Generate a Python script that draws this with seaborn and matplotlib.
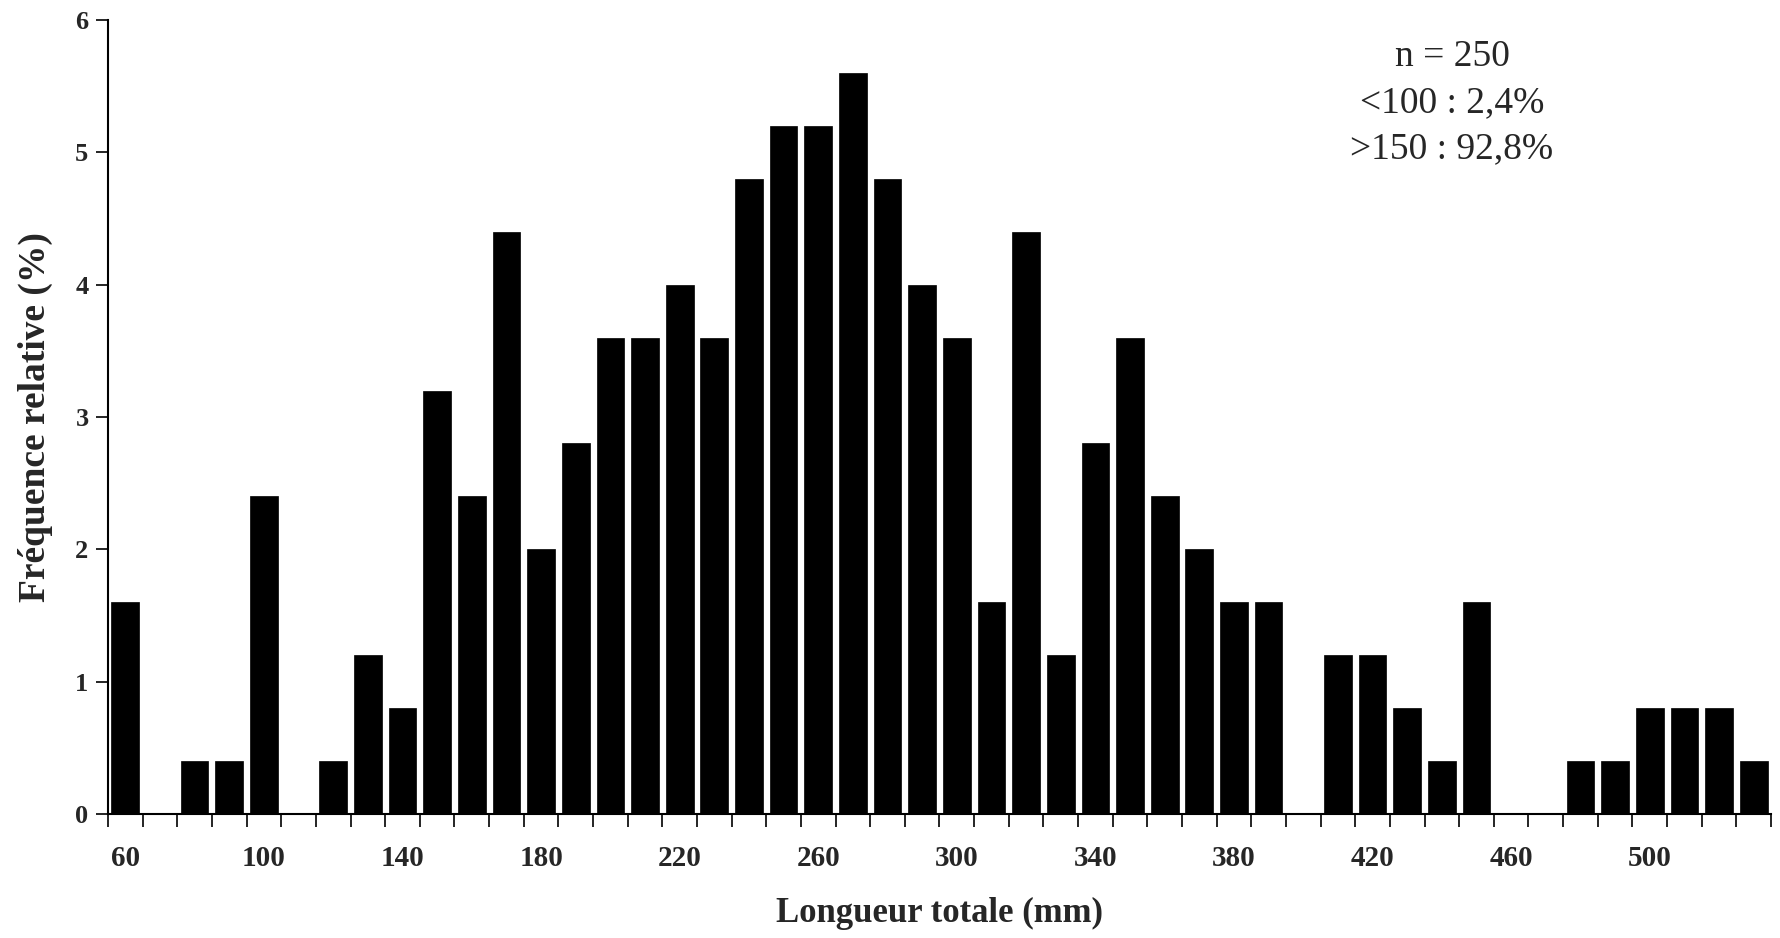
import matplotlib
matplotlib.use("Agg")
import matplotlib.pyplot as plt
import seaborn as sns
import pandas as pd
import numpy as np

lengths = [60, 70, 80, 90, 100, 110, 120, 130, 140, 150, 160, 170, 180, 190,
           200, 210, 220, 230, 240, 250, 260, 270, 280, 290, 300, 310, 320,
           330, 340, 350, 360, 370, 380, 390, 400, 410, 420, 430, 440, 450,
           460, 470, 480, 490, 500, 510, 520, 530]
freq = [1.6, 0.0, 0.4, 0.4, 2.4, 0.0, 0.4, 1.2, 0.8, 3.2, 2.4, 4.4, 2.0, 2.8,
        3.6, 3.6, 4.0, 3.6, 4.8, 5.2, 5.2, 5.6, 4.8, 4.0, 3.6, 1.6, 4.4,
        1.2, 2.8, 3.6, 2.4, 2.0, 1.6, 1.6, 0.0, 1.2, 1.2, 0.8, 0.4, 1.6,
        0.0, 0.0, 0.4, 0.4, 0.8, 0.8, 0.8, 0.4]
tick_labels = ["60", "100", "140", "180", "220", "260", "300", "340",
               "380", "420", "460", "500"]
yticks = [0, 1, 2, 3, 4, 5, 6]
annot_lines = ["n = 250", "<100 : 2,4%", ">150 : 92,8%"]

sns.set_style("white")
plt.rcParams['font.family'] = ['Liberation Serif', 'DejaVu Serif']

df = pd.DataFrame({"L": [str(v) for v in lengths], "f": freq})

W, H = 1781, 938
x0, x1, y0, y1 = 108, 1771, 814, 20
fig = plt.figure(figsize=(W / 100, H / 100), dpi=100)
ax = fig.add_axes([x0 / W, 1 - y0 / H, (x1 - x0) / W, (y0 - y1) / H])

sns.barplot(data=df, x="L", y="f", order=df["L"], color="black",
            width=0.8, saturation=1, edgecolor="black", linewidth=0.5, ax=ax)

n = len(lengths)
ax.set_xlim(-0.5, n - 0.5)
ax.set_ylim(0, 6)

# labels at centres every 4 bins, tick marks at bin edges
label_pos = [lengths.index(int(t)) for t in tick_labels]
ax.set_xticks(label_pos)
ax.set_xticklabels(tick_labels, fontsize=21, fontweight="bold")
ax.set_xticks(np.arange(-0.5, n, 1.0), minor=True)
ax.tick_params(axis="x", which="major", length=0, pad=22)
ax.tick_params(axis="x", which="minor", length=9, width=1.2, direction="out",
               bottom=True, color="black")

ax.set_yticks(yticks)
ax.set_yticklabels([str(v) for v in yticks], fontsize=19, fontweight="bold")
ax.tick_params(axis="y", which="major", length=9, width=1.2, direction="out",
               left=True, color="black", pad=5)

for s in ["top", "right"]:
    ax.spines[s].set_visible(False)
for s in ["left", "bottom"]:
    ax.spines[s].set_visible(True)
    ax.spines[s].set_color("black")
    ax.spines[s].set_linewidth(1.5)

ax.set_xlabel("Longueur totale (mm)", fontsize=25, fontweight="bold")
ax.xaxis.set_label_coords(0.5, -0.105)
ax.set_ylabel("Fréquence relative (%)", fontsize=27, fontweight="bold")
ax.yaxis.set_label_coords(-0.033, 0.5)

fig.text(1452 / W, 1 - 103 / H, "\n".join(annot_lines), ha="center",
         va="center", fontsize=27, linespacing=1.45)

fig.savefig("out.png", dpi=100, facecolor="white")
